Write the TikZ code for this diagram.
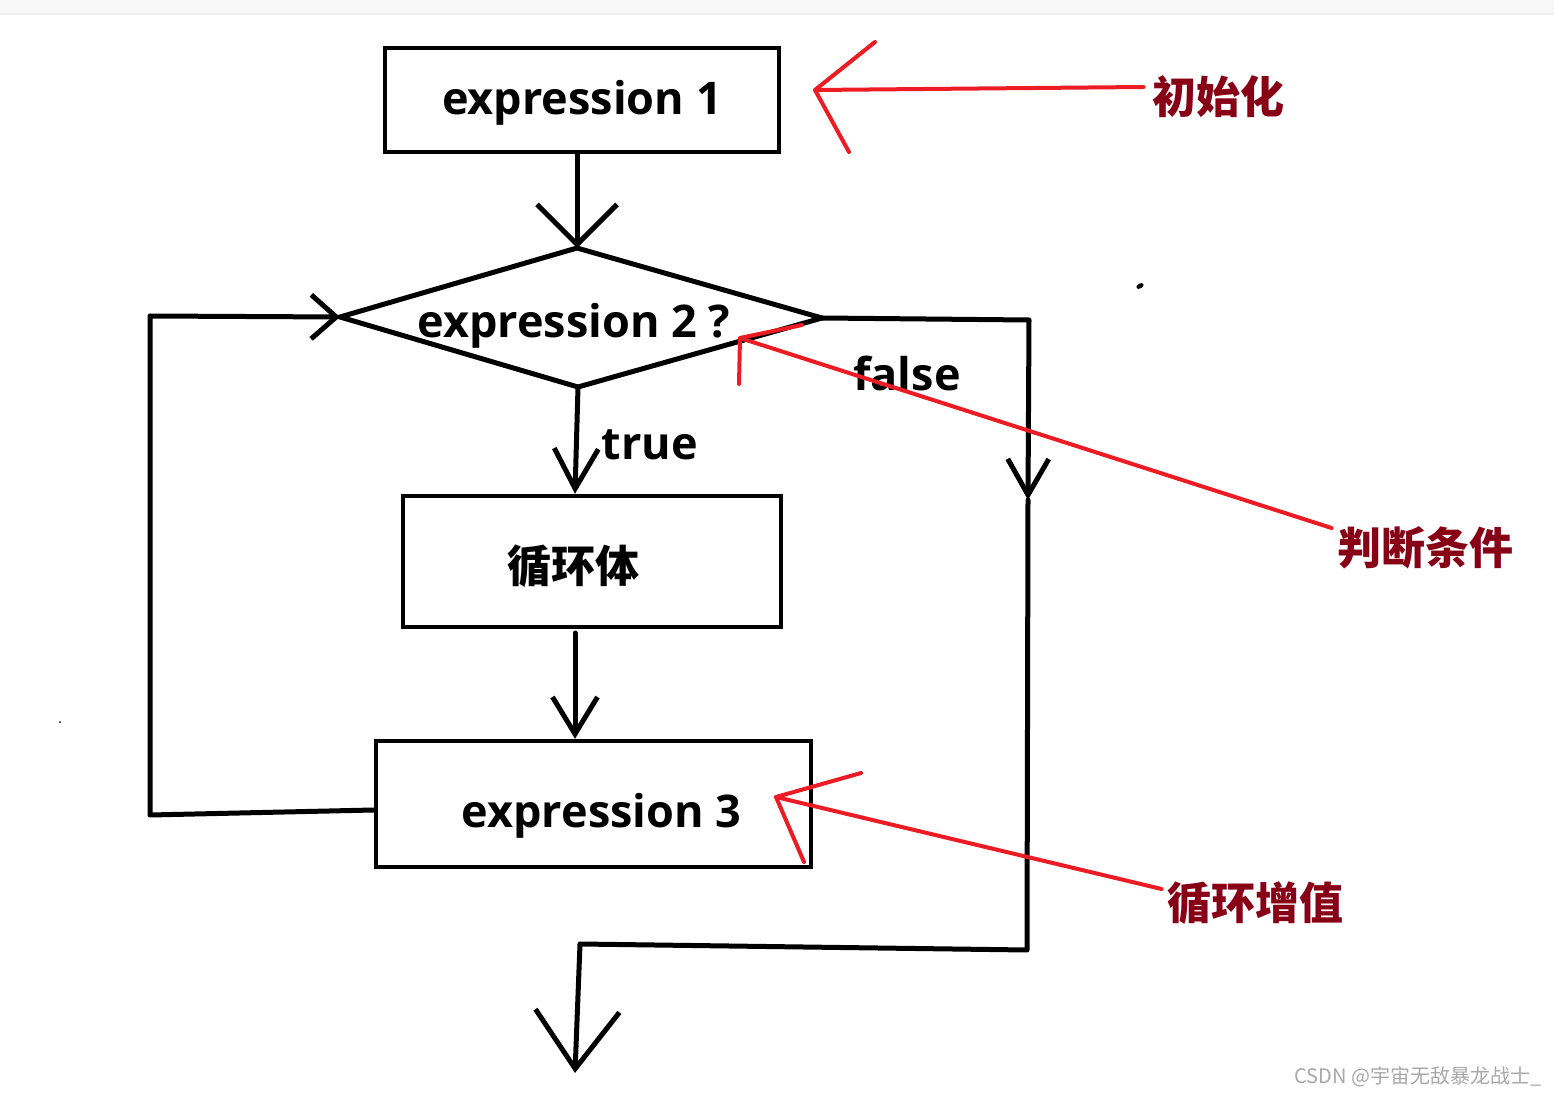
\documentclass[tikz,border=0pt]{standalone}
\usepackage{fontspec}
\setmainfont{Open Sans}
\newfontfamily\cjk{Noto Sans CJK SC}
\usetikzlibrary{shapes.geometric,arrows.meta}
\definecolor{pred}{HTML}{ED1C24}
\definecolor{dred}{HTML}{880015}
\definecolor{band}{HTML}{F8F8F8}
\definecolor{bandline}{HTML}{EEEEEE}
\definecolor{wm}{HTML}{A8A8A8}
\tikzset{
  blk/.style={line width=2.5pt, line cap=round, line join=round},
  box/.style={draw, line width=2.2pt, rectangle, inner sep=0pt, font=\bfseries\fontsize{22.5}{26}\selectfont},
  cbox/.style={draw, line width=2.2pt, rectangle, inner sep=0pt, font=\cjk\bfseries\fontsize{22}{26}\selectfont},
  lbl/.style={inner sep=0pt, font=\bfseries\fontsize{22.5}{26}\selectfont},
  ann/.style={inner sep=0pt, text=dred, font=\cjk\bfseries\fontsize{22}{26}\selectfont},
  vhead/.style 2 args={-{Straight Barb[length=#1,width=#2,line width=2.5pt]}},
  redl/.style={pred, line width=2pt, line cap=round, line join=round},
}
\begin{document}
\begin{tikzpicture}[x=0.5pt,y=-0.5pt]
\path[use as bounding box, fill=white] (0,0) rectangle (1554,1096);
\fill[band] (0,0) rectangle (1554,13);
\fill[bandline] (0,13) rectangle (1554,15);

% main nodes
\node[box, minimum width=197pt, minimum height=52pt] (e1) at (582,100) {\raisebox{-7.5pt}[0pt][0pt]{expression 1}};
\coordinate (dN) at (577,248);
\coordinate (dW) at (340,317);
\coordinate (dE) at (822,318);
\coordinate (dS) at (578,387);
\draw[line width=2.5pt, line join=miter] (dN) -- (dE) -- (dS) -- (dW) -- cycle;
\node[lbl] (d) at (574,326) {expression 2 ?};
\node[cbox, minimum width=189pt, minimum height=65.5pt] (b2) at (592,561.5) {\hspace*{-19pt}\raisebox{-10.4pt}[0pt][0pt]{循环体}};
\node[box, minimum width=217.5pt, minimum height=63pt] (e3) at (593.5,804) {\hspace*{8pt}\raisebox{-11.5pt}[0pt][0pt]{expression 3}};

\node[lbl] (t) at (650,445) {true};
\node[lbl] (f) at (907,374) {false};

% coordinates for corners
\coordinate (r1) at (1029,320);
\coordinate (rm) at (1028,500);
\coordinate (r2) at (1027,950);
\coordinate (b1) at (580,944);
\coordinate (fin) at (575,1073);
\coordinate (l1) at (150,815);
\coordinate (l2) at (150,316);
\coordinate (k1) at (575,633);

% black connectors
\draw[blk, vhead={20pt}{40pt}] (e1.south -| dN) -- (dN);
\draw[blk, vhead={20pt}{22pt}] (dS) -- (b2.north -| 575,0);
\draw[blk, vhead={18.5pt}{22.5pt}] (k1) -- (e3.north -| k1);
\draw[blk, vhead={18pt}{20.5pt}] (dE) -- (r1) -- (rm);
\draw[blk, vhead={29pt}{42pt}] (rm) -- (r2) -- (b1) -- (fin);
\draw[blk, vhead={12.5pt}{22pt}] ([yshift=-3pt]e3.west) -- (l1) -- (l2) -- (dW);

% annotations
\node[ann] (init) at (1218,97) {初始化};
\node[ann] (judge) at (1425,548) {判断条件};
\node[ann] (incr) at (1255,903) {循环增值};

\coordinate (a1) at (815,90);
\coordinate (a1u) at (875,42);
\coordinate (a1d) at (849,152);
\coordinate (a2) at (740,338);
\coordinate (a2u) at (802,325);
\coordinate (a2d) at (739,384);
\coordinate (a3) at (776,797);
\coordinate (a3u) at (861,773);
\coordinate (a3d) at (804,862);

\draw[redl] ([xshift=-4pt,yshift=5pt]init.west) -- (a1);
\draw[redl] (a1u) -- (a1) -- (a1d);
\draw[redl] ([xshift=-2.5pt,yshift=10pt]judge.west) -- (a2);
\draw[redl] (a2u) -- (a2) -- (a2d);
\draw[redl] ([xshift=-2.5pt,yshift=7pt]incr.west) -- (a3);
\draw[redl] (a3u) -- (a3) -- (a3d);

% stray dots
\fill[rotate around={30:(1140,286)}] (1140,286) ellipse (2pt and 1.2pt);
\fill (60,722) circle (0.5pt);

% watermark
\node[inner sep=0pt, text=wm, font=\cjk\fontsize{10}{12}\selectfont] (wmk) at (1418,1077) {CSDN @宇宙无敌暴龙战士\_};
\end{tikzpicture}
\end{document}
